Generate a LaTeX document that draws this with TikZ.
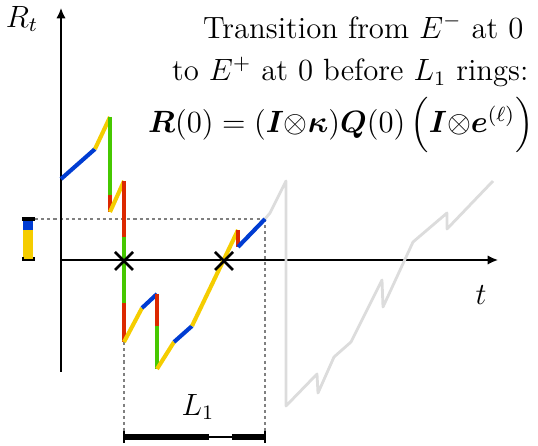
\documentclass[tikz,border=0pt]{standalone}
\usepackage{amsmath,bm}
\usetikzlibrary{arrows.meta,calc}
\definecolor{pblue}{RGB}{0,60,210}
\definecolor{pgreen}{RGB}{70,200,0}
\definecolor{pred}{RGB}{220,40,0}
\definecolor{pyellow}{RGB}{245,205,0}
\definecolor{pgray}{RGB}{220,220,220}
\begin{document}
\begin{tikzpicture}[x=0.39pt,y=-0.39pt,
  every node/.style={font=\large},
  seg/.style={line width=1.6pt},
  axis/.style={line width=0.6pt,-{Latex[length=4pt,width=3.6pt]}},
  guide/.style={gray,line width=0.4pt,dash pattern=on 1.2pt off 1.2pt},
  crossmark/.style={line width=1pt,black},
  ghost/.style={pgray,line width=1.1pt,line join=round}]
\useasboundingbox (0,0) rectangle (538,446);
% guides
\draw[guide] (35,219) -- (265,219);
\draw[guide] (124,342) -- (124,432);
\draw[guide] (265,219) -- (265,432);
% axes
\coordinate (o) at (61,260);
\coordinate (ytop) at (61,8);
\coordinate (ybot) at (61,372);
\coordinate (xend) at (498,260);
\draw[axis] (ybot) -- (ytop);
\draw[axis] (o) -- (xend);
\node (rt) at (22,19) {$R_t$};
\node (tl) at (481,295) {$t$};
% ghost continuation
\draw[ghost] (265,219) -- (270,213) -- (286,181) -- (286,406) -- (317,374) -- (318,393) -- (334,357) -- (351,342) -- (382,280) -- (383,307) -- (413,242) -- (447,213) -- (447,229) -- (493,181);
% path segments
\draw[seg,pblue] (61,179) -- (95,149);
\draw[seg,pyellow] (95,149) -- (110,117);
\draw[seg,pgreen] (110,117) -- (110,195);
\draw[seg,pred] (110,195) -- (110,212);
\draw[seg,pyellow] (110,212) -- (124,181);
\draw[seg,pred] (124,181) -- (124,237);
\draw[seg,pgreen] (124,237) -- (124,303);
\draw[seg,pred] (124,303) -- (124,342);
\draw[seg,pyellow] (124,342) -- (142,308);
\draw[seg,pblue] (142,308) -- (157,294);
\draw[seg,pred] (157,294) -- (157,326);
\draw[seg,pgreen] (157,326) -- (157,369);
\draw[seg,pyellow] (157,369) -- (174,342);
\draw[seg,pblue] (174,342) -- (192,326);
\draw[seg,pyellow] (192,326) -- (238,230);
\draw[seg,pred] (238,230) -- (238,247);
\draw[seg,pblue] (238,247) -- (265,219);
% crosses
\coordinate (c1) at (124,261);
\coordinate (c2) at (224,261);
\foreach \c in {c1,c2}{
  \draw[crossmark] ($(\c)+(-9,-9)$) -- ($(\c)+(9,9)$);
  \draw[crossmark] ($(\c)+(-9,9)$) -- ($(\c)+(9,-9)$);
}
% left bracket
\draw[pblue,line width=3.6pt] (28,219) -- (28,230);
\draw[pyellow,line width=3.6pt] (28,230) -- (28,259);
\draw[black,line width=1.3pt] (22,219) -- (35,219);
\draw[black,line width=0.9pt] (23,257) -- (23,260) -- (34,260) -- (34,257);
% L1 bar
\draw[black,line width=2.4pt] (124,437) -- (209,437);
\draw[black,line width=0.8pt] (209,437) -- (232,437);
\draw[black,line width=2.4pt] (232,437) -- (265,437);
\draw[black,line width=0.8pt] (124,431) -- (124,443);
\draw[black,line width=0.8pt] (265,431) -- (265,443);
\node (l1) at (198,407) {$L_1$};
% text
\node[anchor=base east,inner sep=0pt] (t1) at (524,38) {Transition from $E^-$ at 0};
\node[anchor=base east,inner sep=0pt] (t2) at (529,81) {to $E^+$ at 0 before $L_1$ rings:};
\node[anchor=base east,inner sep=0pt] (t3) at (534,133) {$\bm{R}(0) = (\bm{I}{\otimes}\bm{\kappa})\bm{Q}(0)\,\Big(\bm{I}{\otimes}\bm{e}^{(\ell)}\Big)$};
\end{tikzpicture}
\end{document}
